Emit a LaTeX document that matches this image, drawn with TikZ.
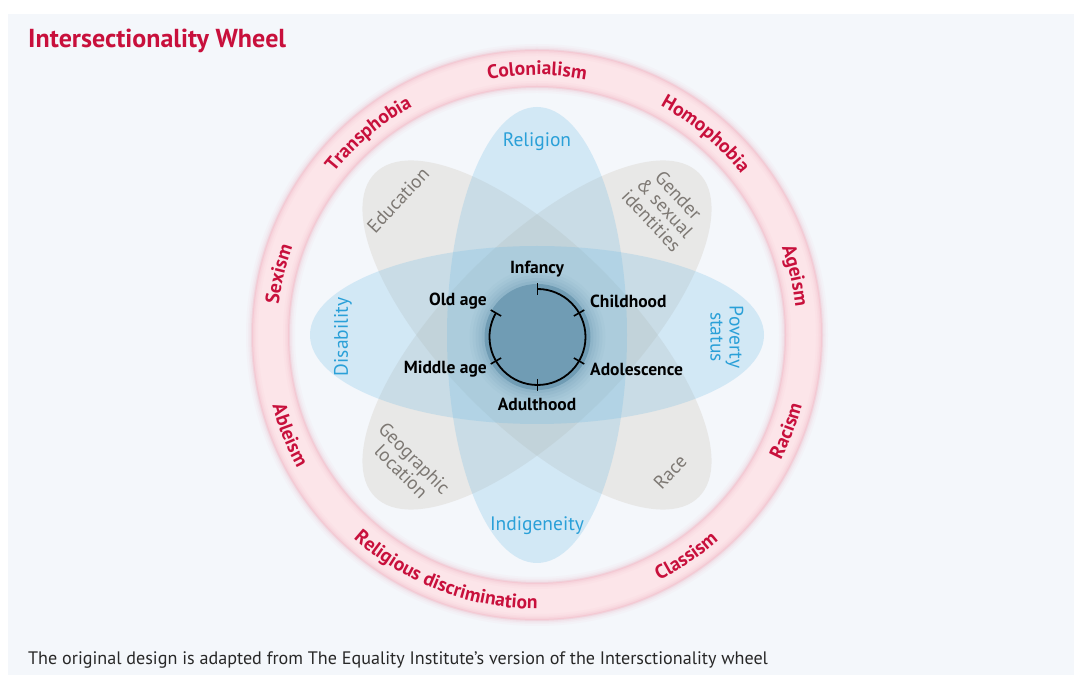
\documentclass[tikz,border=0pt]{standalone}
\usepackage{fontspec}
\setmainfont{PT Sans}
\usetikzlibrary{decorations.text}

\definecolor{panel}{RGB}{244,247,251}
\definecolor{crimson}{RGB}{200,16,60}
\definecolor{skyblue}{RGB}{105,185,228}
\definecolor{sand}{RGB}{195,185,170}
\definecolor{bluetext}{RGB}{42,160,216}
\definecolor{greytext}{RGB}{125,120,115}
\definecolor{ringfill}{RGB}{252,229,233}
\definecolor{ringedge}{RGB}{236,160,178}
\definecolor{hub}{RGB}{112,156,180}
\definecolor{captiontext}{RGB}{40,40,40}

% font used for the words written along the outer ring
\newcommand\ringfont{\fontsize{19.5}{19.5}\selectfont\bfseries}
% word along the upper half of the ring (read clockwise), centred at angle #1
\newcommand\ringtop[2]{%
  \path[decorate, decoration={text along path, text align=center,
        text color=crimson, text={|\ringfont|#2}}]
    ([shift={(#1+45:260pt)}]C) arc[start angle=#1+45, end angle=#1-45, radius=260pt];}
% word along the lower half of the ring (read counter-clockwise), centred at angle #1
\newcommand\ringbot[2]{%
  \path[decorate, decoration={text along path, text align=center,
        text color=crimson, text={|\ringfont|#2}}]
    ([shift={(#1-45:274pt)}]C) arc[start angle=#1-45, end angle=#1+45, radius=274pt];}

\tikzset{
  axispetal/.style={fill=skyblue, fill opacity=0.24},
  diagpetal/.style={fill=sand, fill opacity=0.24},
  bluelabel/.style={text=bluetext, font=\fontsize{19.5}{19}\selectfont, align=center, inner sep=0pt},
  greylabel/.style={text=greytext, font=\fontsize{19}{18.5}\selectfont, align=center, inner sep=0pt},
  agelabel/.style={text=black, font=\fontsize{17.5}{18}\selectfont\bfseries, inner sep=0pt},
  tick/.style={line width=1.6pt},
}

\begin{document}
\begin{tikzpicture}[x=1pt,y=1pt]
\useasboundingbox (0,0) rectangle (1074,675);
\fill[white] (0,0) rectangle (1074,675);
\fill[panel] (8,0) rectangle (1074,661);

\node[anchor=base west, inner sep=0pt, text=crimson, font=\fontsize{26}{30}\selectfont\bfseries] (title) at (28,627) {Intersectionality Wheel};
\node[anchor=base west, inner sep=0pt, text=captiontext, font=\fontsize{18.1}{20}\selectfont] (caption) at (28,11) {The original design is adapted from The Equality Institute’s version of the Intersctionality wheel};

\coordinate (C) at (537,340);
\coordinate (H) at (537.5,338);

% outer ring with a soft pink rim
\draw[ringfill, line width=37pt] (C) circle[radius=266.5pt];
\foreach \w/\o in {12/0.05, 8/0.07, 5/0.1, 2/0.22}{
  \draw[ringedge, line width=\w pt, opacity=\o] (C) circle[radius=285pt];
  \draw[ringedge, line width=\w pt, opacity=\o] (C) circle[radius=248pt];
}

% petals
\fill[diagpetal, rotate around={45:(C)}] (C) ellipse[x radius=92pt, y radius=229pt];
\fill[diagpetal, rotate around={-45:(C)}] (C) ellipse[x radius=92pt, y radius=229pt];
\fill[axispetal] (C) ellipse[x radius=90pt, y radius=228pt];
\fill[axispetal] (C) ellipse[x radius=227pt, y radius=89pt];

% hub with a soft edge
\foreach \r/\o in {68/0.06, 65/0.08, 62/0.1, 59/0.13, 56/0.18}{
  \fill[hub, opacity=\o] (H) circle[radius=\r pt];
}
\fill[hub] (H) circle[radius=53pt];

% life-stage cycle
\draw[line width=1.8pt] ([shift={(90:48pt)}]H) arc[start angle=90, end angle=-210, radius=48pt];
\foreach \a in {90,30,-30,-90,-150,150}{
  \draw[tick] ([shift={(\a:42pt)}]H) -- ([shift={(\a:54pt)}]H);
}

\node[agelabel] (infancy) at (537,406) {Infancy};
\node[agelabel, anchor=west] (childhood) at (590,374) {Childhood};
\node[agelabel, anchor=west] (adolescence) at (590,306) {Adolescence};
\node[agelabel] (adulthood) at (537,271) {Adulthood};
\node[agelabel, anchor=east] (middleage) at (487,306) {Middle age};
\node[agelabel, anchor=east] (oldage) at (487,374) {Old age};

% petal labels
\node[bluelabel] (religion) at (537,533) {Religion};
\node[bluelabel] (indigeneity) at (537,149) {Indigeneity};
\node[bluelabel, rotate=90] (disability) at (343,338) {Disability};
\node[bluelabel, rotate=-90] (poverty) at (727,338) {Poverty\\status};
\node[greylabel, rotate=47] (education) at (398,475) {Education};
\node[greylabel, rotate=-47] (gender) at (665,467) {Gender\\\& sexual\\identities};
\node[greylabel, rotate=-45] (geographic) at (408,210) {Geographic\\location};
\node[greylabel, rotate=47] (race) at (670,203) {Race};

% words around the ring
\ringtop{166.7}{Sexism}
\ringtop{130}{Transphobia}
\ringtop{90}{Colonialism}
\ringtop{50}{Homophobia}
\ringtop{13}{Ageism}
\ringbot{-21}{Racism}
\ringbot{-56}{Classism}
\ringbot{-111}{Religious discrimination}
\ringbot{-158}{Ableism}
\end{tikzpicture}
\end{document}
